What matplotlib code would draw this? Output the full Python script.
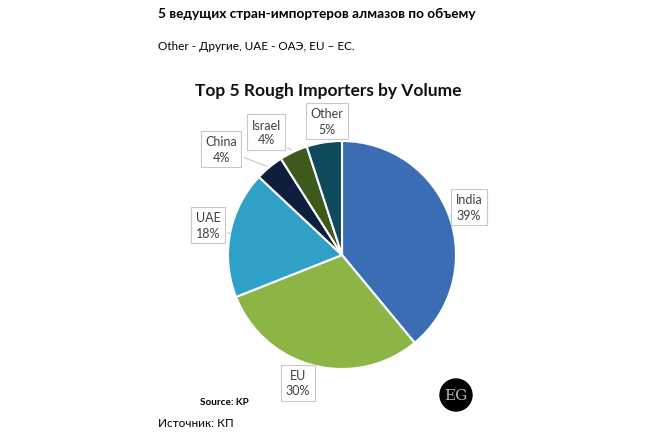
import numpy as np
import matplotlib.pyplot as plt
from matplotlib.patches import Circle

plt.rcParams['font.family'] = ['Lato', 'DejaVu Sans']

countries = ['India', 'EU', 'UAE', 'China', 'Israel', 'Other']
shares = [39, 30, 18, 4, 4, 5]
colors = ['#3b6db4', '#8db545', '#2fa0c8', '#0e1f3e', '#3d5a1d', '#0f4a5c']
# label box centres in pixel coords (x, y from top)
label_pos = [(469, 208), (298, 384), (208, 226), (221, 150), (266, 133), (327, 122)]

W, H = 650, 439
fig = plt.figure(figsize=(6.5, 4.39), dpi=100)
ax = fig.add_axes([0, 0, 1, 1])

cx, cy, r = 342, H - 256, 114
wedges, _ = ax.pie(shares, colors=colors, startangle=90, counterclock=False,
                   center=(cx, cy), radius=r, frame=True,
                   wedgeprops=dict(edgecolor='white', linewidth=1.5))
ax.set_xlim(0, W)
ax.set_ylim(0, H)
ax.set_aspect('equal')
ax.axis('off')

for w, name, val, (lx, ly) in zip(wedges, countries, shares, label_pos):
    ang = np.deg2rad((w.theta1 + w.theta2) / 2)
    px, py = cx + r * np.cos(ang), cy + r * np.sin(ang)
    ax.annotate(f'{name}\n{val}%', xy=(px, py), xytext=(lx, H - ly),
                ha='center', va='center', fontsize=9, color='#404040',
                linespacing=1.3,
                bbox=dict(boxstyle='square,pad=0.35', fc='white', ec='#c8c8c8', lw=0.8),
                arrowprops=dict(arrowstyle='-', color='#c8c8c8', lw=0.8))

fig.text(158 / W, 1 - 14 / H, '5 ведущих стран-импортеров алмазов по объему',
         fontsize=9.8, fontweight='bold', va='center', ha='left')
fig.text(158 / W, 1 - 47 / H, 'Other - Другие, UAE - ОАЭ, EU – ЕС.',
         fontsize=8.5, va='center', ha='left')
fig.text(328 / W, 1 - 91 / H, 'Top 5 Rough Importers by Volume',
         fontsize=12.5, fontweight='bold', va='center', ha='center', color='#111111')
fig.text(200 / W, 1 - 403 / H, 'Source: KP', fontsize=7.2, fontweight='bold',
         va='center', ha='left')
fig.text(158 / W, 1 - 424 / H, 'Источник: КП', fontsize=8.5, va='center', ha='left')

ax.add_patch(Circle((456, H - 396), 16, color='black'))
ax.text(456, H - 396, 'EG', fontsize=11, family='DejaVu Serif', color='#b8b8b8',
        ha='center', va='center')

fig.savefig('out.png', dpi=100)
